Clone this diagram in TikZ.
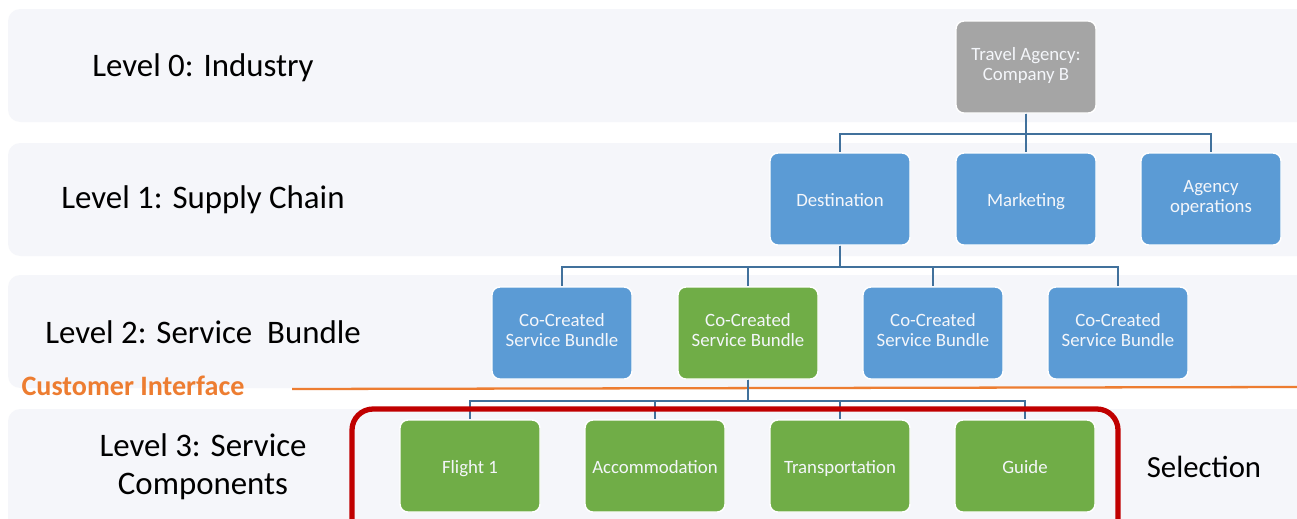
\documentclass[tikz,border=0pt]{standalone}
\usepackage{fontspec}
\setmainfont{Carlito}
\definecolor{bandc}{HTML}{F5F6FA}
\definecolor{bluec}{HTML}{5B9BD5}
\definecolor{greenc}{HTML}{70AD47}
\definecolor{grayc}{HTML}{A5A5A5}
\definecolor{linec}{HTML}{41719C}
\definecolor{orangec}{HTML}{ED7D31}
\definecolor{redc}{HTML}{C00000}
\definecolor{boxtext}{HTML}{F4F6FA}
\begin{document}
\begin{tikzpicture}[x=0.02cm,y=-0.02cm,
  band/.style={fill=bandc,draw=none,rounded corners=7pt},
  box/.style={draw=white,line width=0.8pt,rounded corners=4.5pt,minimum width=140*0.02cm,minimum height=92*0.02cm,
    text=boxtext,font=\fontsize{10.7}{11.5}\selectfont,align=center,inner sep=1pt,
    execute at begin node={\rule{0pt}{1.1em}},execute at end node={\rule[-0.3em]{0pt}{0pt}}},
  bluebox/.style={box,fill=bluec},
  greenbox/.style={box,fill=greenc},
  graybox/.style={box,fill=grayc},
  conn/.style={draw=linec,line width=1.3pt},
  lvl/.style={font=\fontsize{18.7}{21.5}\selectfont,align=center,text=black},
]
\useasboundingbox (0,0) rectangle (1297,518);
\fill[white] (0,0) rectangle (1297,518);
% bands
\fill[band] (8,9) rectangle (1320,122);
\fill[band] (8,143) rectangle (1320,256);
\fill[band] (8,275) rectangle (1320,388);
\fill[band] (8,409) rectangle (1320,540);
% level labels
\node[lvl] (l0) at (203,68) {Level 0: Industry};
\node[lvl] (l1) at (203,200) {Level 1: Supply Chain};
\node[lvl] (l2) at (203,332) {Level 2: Service\ \ Bundle};
\node[lvl] (l3) at (203,467) {Level 3: Service\\Components};
\node[lvl,font=\fontsize{17.5}{20}\selectfont] (sel) at (1204,467) {Selection};
% customer interface
\node[font=\fontsize{16}{19}\selectfont\bfseries,text=orangec] (ci) at (133,386) {Customer Interface};
\coordinate (oa) at (292,389);
\coordinate (ob) at (1297,387);
\draw[orangec,line width=1.3pt] (oa) -- (ob);
% nodes
\node[graybox] (ta) at (1026,67) {Travel Agency:\\Company B};
\node[bluebox] (dest) at (840,199) {Destination};
\node[bluebox] (mkt) at (1026,199) {Marketing};
\node[bluebox] (ops) at (1211,199) {Agency\\operations};
\node[bluebox] (b1) at (562,333) {Co-Created\\Service Bundle};
\node[greenbox] (b2) at (748,333) {Co-Created\\Service Bundle};
\node[bluebox] (b3) at (933,333) {Co-Created\\Service Bundle};
\node[bluebox] (b4) at (1118,333) {Co-Created\\Service Bundle};
\node[greenbox] (c1) at (470,466) {Flight 1};
\node[greenbox] (c2) at (655,466) {Accommodation};
\node[greenbox] (c3) at (840,466) {Transportation};
\node[greenbox] (c4) at (1025,466) {Guide};
% connectors
\draw[conn] (ta.south) -- ++(0,20) -| (dest.north);
\draw[conn] (ta.south) -- ++(0,20) -| (ops.north);
\draw[conn] (ta.south) -- (mkt.north);
\draw[conn] (dest.south) -- ++(0,21) -| (b1.north);
\draw[conn] (dest.south) -- ++(0,21) -| (b2.north);
\draw[conn] (dest.south) -- ++(0,21) -| (b3.north);
\draw[conn] (dest.south) -- ++(0,21) -| (b4.north);
\draw[conn] (b2.south) -- ++(0,21) -| (c1.north);
\draw[conn] (b2.south) -- ++(0,21) -| (c2.north);
\draw[conn] (b2.south) -- ++(0,21) -| (c3.north);
\draw[conn] (b2.south) -- ++(0,21) -| (c4.north);
% selection frame
\draw[redc,line width=3pt,rounded corners=12pt] (352,409) rectangle (1118,545);
\end{tikzpicture}
\end{document}
